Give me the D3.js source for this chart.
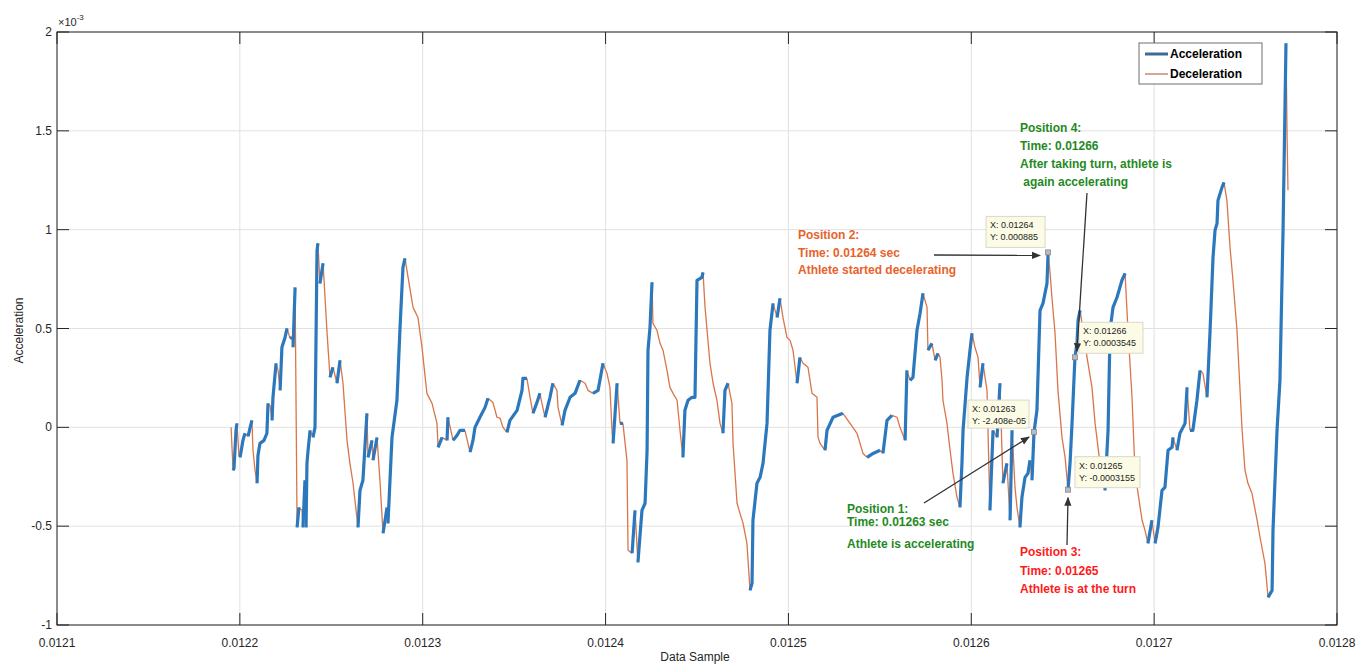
<!DOCTYPE html>
<html><head><meta charset="utf-8">
<script src="https://cdn.jsdelivr.net/npm/d3@7"></script>
<style>
body{margin:0;background:#fff;}
svg{display:block;font-family:"Liberation Sans",Arial,sans-serif;}
</style>
</head><body>
<svg id="chart" width="1357" height="666"></svg>
<script>
// ---------- data ----------
const xTicks = [0.0121, 0.0122, 0.0123, 0.0124, 0.0125, 0.0126, 0.0127, 0.0128];
const yTicks = [-1, -0.5, 0, 0.5, 1, 1.5, 2];           // ×10^-3
const yTickLabels = ["-1", "-0.5", "0", "0.5", "1", "1.5", "2"];
const seriesNames = ["Acceleration", "Deceleration"];

// time (s)
const time = [
0.0121952,0.0121963,0.0121968,0.0121979,0.0121984,0.0121995,0.0122001,0.0122017,0.0122028,0.0122045,
0.0122055,0.0122066,0.0122072,0.0122083,0.0122094,0.0122099,0.0122110,0.0122132,0.0122148,0.0122154,
0.0122165,0.0122176,0.0122181,0.0122198,0.0122209,0.0122220,0.0122230,0.0122247,0.0122258,0.0122274,
0.0122285,0.0122291,0.0122302,0.0122313,0.0122323,0.0122340,0.0122345,0.0122356,0.0122362,0.0122367,
0.0122373,0.0122384,0.0122400,0.0122411,0.0122422,0.0122427,0.0122438,0.0122455,0.0122477,0.0122493,
0.0122509,0.0122531,0.0122548,0.0122564,0.0122586,0.0122602,0.0122619,0.0122646,0.0122657,0.0122673,
0.0122695,0.0122701,0.0122723,0.0122728,0.0122750,0.0122766,0.0122783,0.0122805,0.0122810,0.0122832,
0.0122859,0.0122876,0.0122892,0.0122903,0.0122920,0.0122947,0.0122974,0.0122996,0.0123023,0.0123051,
0.0123078,0.0123084,0.0123106,0.0123133,0.0123138,0.0123166,0.0123188,0.0123204,0.0123231,0.0123259,
0.0123275,0.0123286,0.0123313,0.0123341,0.0123357,0.0123384,0.0123406,0.0123423,0.0123439,0.0123461,
0.0123477,0.0123516,0.0123543,0.0123548,0.0123570,0.0123587,0.0123603,0.0123625,0.0123641,0.0123652,
0.0123669,0.0123696,0.0123712,0.0123734,0.0123740,0.0123762,0.0123778,0.0123806,0.0123833,0.0123860,
0.0123888,0.0123904,0.0123931,0.0123959,0.0123986,0.0124008,0.0124024,0.0124035,0.0124041,0.0124063,
0.0124079,0.0124095,0.0124117,0.0124123,0.0124145,0.0124161,0.0124177,0.0124199,0.0124216,0.0124227,
0.0124232,0.0124243,0.0124254,0.0124259,0.0124281,0.0124298,0.0124314,0.0124336,0.0124352,0.0124369,
0.0124391,0.0124407,0.0124423,0.0124434,0.0124451,0.0124473,0.0124489,0.0124500,0.0124527,0.0124533,
0.0124544,0.0124555,0.0124571,0.0124588,0.0124609,0.0124626,0.0124642,0.0124653,0.0124670,0.0124691,
0.0124697,0.0124719,0.0124735,0.0124752,0.0124773,0.0124790,0.0124801,0.0124806,0.0124828,0.0124845,
0.0124861,0.0124883,0.0124899,0.0124916,0.0124938,0.0124954,0.0124970,0.0124992,0.0125009,0.0125025,
0.0125047,0.0125063,0.0125080,0.0125107,0.0125129,0.0125156,0.0125162,0.0125173,0.0125200,0.0125211,
0.0125244,0.0125298,0.0125337,0.0125375,0.0125408,0.0125430,0.0125463,0.0125501,0.0125517,0.0125539,
0.0125566,0.0125594,0.0125610,0.0125638,0.0125648,0.0125665,0.0125681,0.0125703,0.0125720,0.0125736,
0.0125758,0.0125763,0.0125785,0.0125802,0.0125818,0.0125829,0.0125840,0.0125845,0.0125867,0.0125884,
0.0125900,0.0125922,0.0125938,0.0125949,0.0125955,0.0125977,0.0125993,0.0126004,0.0126020,0.0126037,
0.0126048,0.0126064,0.0126086,0.0126102,0.0126119,0.0126141,0.0126157,0.0126173,0.0126195,0.0126212,
0.0126223,0.0126239,0.0126250,0.0126266,0.0126277,0.0126294,0.0126310,0.0126321,0.0126332,0.0126343,
0.0126359,0.0126376,0.0126392,0.0126414,0.0126420,0.0126431,0.0126441,0.0126458,0.0126474,0.0126496,
0.0126513,0.0126529,0.0126540,0.0126551,0.0126567,0.0126578,0.0126584,0.0126595,0.0126611,0.0126633,
0.0126660,0.0126677,0.0126704,0.0126731,0.0126748,0.0126759,0.0126775,0.0126797,0.0126824,0.0126841,
0.0126857,0.0126879,0.0126895,0.0126912,0.0126934,0.0126950,0.0126966,0.0126988,0.0127005,0.0127021,
0.0127043,0.0127059,0.0127076,0.0127098,0.0127103,0.0127125,0.0127141,0.0127169,0.0127180,0.0127196,
0.0127212,0.0127234,0.0127251,0.0127267,0.0127289,0.0127306,0.0127322,0.0127333,0.0127344,0.0127349,
0.0127371,0.0127382,0.0127398,0.0127415,0.0127431,0.0127453,0.0127481,0.0127497,0.0127513,0.0127535,
0.0127563,0.0127579,0.0127606,0.0127623,0.0127645,0.0127650,0.0127672,0.0127688,0.0127705,0.0127721,
0.0127727,0.0127732
];

// acceleration (×10^-3)
const accel = [
0,-0.218,-0.207,-0.015,0.020,-0.142,-0.152,-0.066,-0.030,-0.046,
-0.005,0.035,-0.116,-0.218,-0.283,-0.142,-0.081,-0.066,-0.030,0.121,
0.111,0.035,0.152,0.324,0.288,0.187,0.405,0.455,0.501,0.450,
0.455,0.405,0.708,-0.506,-0.405,-0.420,-0.506,-0.268,-0.506,-0.182,
-0.116,-0.015,-0.051,0,0.895,0.931,0.728,0.830,0.476,0.253,
0.304,0.223,0.339,0.223,-0.066,-0.182,-0.283,-0.506,-0.319,-0.268,
0.071,-0.152,-0.066,-0.167,-0.051,-0.268,-0.536,-0.405,-0.486,-0.051,
0.137,0.506,0.809,0.855,0.759,0.607,0.556,0.405,0.172,0.121,
0.020,-0.101,-0.051,-0.066,0.051,-0.066,-0.040,-0.015,-0.015,-0.126,
-0.066,0,0.051,0.101,0.147,0.126,0.051,0.046,0,-0.025,
0.035,0.086,0.187,0.248,0.248,0.152,0.071,0.126,0.172,0.121,
0.051,0.152,0.223,0.187,0.101,0.010,0.086,0.152,0.172,0.238,
0.223,0.187,0.172,0.187,0.324,0.273,0.202,-0.015,-0.081,0.223,
0.020,0.020,-0.167,-0.622,-0.637,-0.420,-0.683,-0.420,-0.384,-0.116,
0.390,0.506,0.734,0.526,0.491,0.425,0.390,0.288,0.202,0.172,
0.137,-0.015,-0.152,0.086,0.137,0.152,0.152,0.744,0.759,0.784,
0.607,0.491,0.324,0.223,0.137,0.020,-0.030,0.187,0.223,0.121,
-0.081,-0.384,-0.435,-0.486,-0.587,-0.825,-0.789,-0.470,-0.283,-0.253,
-0.182,0.020,0.491,0.627,0.556,0.653,0.556,0.455,0.440,0.390,
0.223,0.354,0.324,0.304,0.172,0.152,-0.051,-0.081,-0.116,-0.015,
0.051,0.071,0.020,-0.030,-0.132,-0.152,-0.132,-0.116,-0.132,0.035,
0.061,0.051,0,-0.066,0.288,0.238,0.253,0.491,0.577,0.678,
0.607,0.390,0.425,0.339,0.374,0.354,0.238,0.137,0.020,-0.116,
-0.233,-0.354,-0.405,-0.182,-0.015,0.253,0.390,0.476,0.405,0.354,
0.202,0.324,0.187,-0.420,-0.015,-0.051,0.223,-0.283,-0.182,-0.470,
-0.015,-0.304,-0.405,-0.506,-0.354,-0.253,-0.233,-0.167,-0.268,-0.02408,
0.086,0.592,0.627,0.728,0.885,0.779,0.658,0.476,0.187,-0.051,
-0.152,-0.3155,-0.182,0.020,0.3545,0.425,0.541,0.592,0.491,0.354,
0.202,0.020,-0.182,-0.319,-0.015,0.491,0.607,0.658,0.744,0.779,
0.491,0.152,-0.218,-0.334,-0.470,-0.521,-0.587,-0.470,-0.587,-0.506,
-0.319,-0.304,-0.116,-0.101,-0.051,-0.116,-0.030,0.020,0.202,-0.015,
-0.015,0.137,0.288,0.273,0.152,0.491,0.860,0.997,1.032,1.148,
1.214,1.239,1.148,0.911,0.744,0.491,-0.015,-0.218,-0.283,-0.334,
-0.470,-0.556,-0.688,-0.860,-0.825,-0.521,-0.015,0.238,0.997,1.943,
1.467,1.199
];

// data tips (time, value, label lines)
const tipTime  = [0.0126343, 0.0126420, 0.0126529, 0.0126567];
const tipValue = [-0.02408, 0.885, -0.3155, 0.3545];
const tipLines = [
  ["X:   0.01263", "Y: -2.408e-05"],
  ["X: 0.01264", "Y: 0.000885"],
  ["X: 0.01265", "Y: -0.0003155"],
  ["X: 0.01266", "Y: 0.0003545"]
];

// ---------- layout ----------
const svg = d3.select("#chart");
const L = 57, R = 1337, T = 32, B = 625;
const x = d3.scaleLinear().domain([0.0121, 0.0128]).range([L, R]);
const y = d3.scaleLinear().domain([-1, 2]).range([B, T]);
const axisColor = "#262626";
const gridColor = "#e1e1e1";

// grid
const grid = svg.append("g");
grid.selectAll("line.gx").data(xTicks).join("line")
  .attr("x1", d => x(d)).attr("x2", d => x(d)).attr("y1", T).attr("y2", B)
  .attr("stroke", gridColor).attr("stroke-width", 1);
grid.selectAll("line.gy").data(yTicks).join("line")
  .attr("x1", L).attr("x2", R).attr("y1", d => y(d)).attr("y2", d => y(d))
  .attr("stroke", gridColor).attr("stroke-width", 1);

// clip
svg.append("defs").append("clipPath").attr("id", "clip")
  .append("rect").attr("x", L).attr("y", T).attr("width", R - L).attr("height", B - T);
svg.select("defs").append("marker").attr("id", "arrow")
  .attr("viewBox", "0 0 10 10").attr("refX", 9).attr("refY", 5)
  .attr("markerWidth", 9).attr("markerHeight", 9).attr("orient", "auto")
  .attr("markerUnits", "userSpaceOnUse")
  .append("path").attr("d", "M0,1 L10,5 L0,9 Z").attr("fill", "#333");

// split data into rising (acceleration) and falling (deceleration) runs
const pts = time.map((t, i) => ({t, a: accel[i]}));
const runs = [];
for (let i = 1; i < pts.length; i++) {
  const up = pts[i].a >= pts[i - 1].a;
  const last = runs[runs.length - 1];
  if (last && last.up === up) last.pts.push(pts[i]);
  else runs.push({up, pts: [pts[i - 1], pts[i]]});
}
const line = d3.line().x(d => x(d.t)).y(d => y(d.a));
const plot = svg.append("g").attr("clip-path", "url(#clip)");
plot.selectAll("path.dec").data(runs.filter(r => !r.up)).join("path")
  .attr("d", r => line(r.pts)).attr("fill", "none")
  .attr("stroke", "#d9754a").attr("stroke-width", 1.3).attr("stroke-linejoin", "round");
plot.selectAll("path.acc").data(runs.filter(r => r.up)).join("path")
  .attr("d", r => line(r.pts)).attr("fill", "none")
  .attr("stroke", "#2b78bd").attr("stroke-width", 3.2).attr("stroke-linejoin", "round");

// axes frame
const frame = svg.append("g");
frame.append("rect").attr("x", L).attr("y", T).attr("width", R - L).attr("height", B - T)
  .attr("fill", "none").attr("stroke", axisColor).attr("stroke-width", 1);
const tickLen = 12;
xTicks.forEach(d => {
  frame.append("line").attr("x1", x(d)).attr("x2", x(d)).attr("y1", B).attr("y2", B - tickLen).attr("stroke", axisColor);
  frame.append("line").attr("x1", x(d)).attr("x2", x(d)).attr("y1", T).attr("y2", T + tickLen).attr("stroke", axisColor);
});
yTicks.forEach(d => {
  frame.append("line").attr("x1", L).attr("x2", L + tickLen).attr("y1", y(d)).attr("y2", y(d)).attr("stroke", axisColor);
  frame.append("line").attr("x1", R).attr("x2", R - tickLen).attr("y1", y(d)).attr("y2", y(d)).attr("stroke", axisColor);
});

// tick labels
const fmtX = d3.format(".4f");
svg.append("g").selectAll("text").data(xTicks).join("text")
  .attr("x", d => x(d)).attr("y", B + 22).attr("text-anchor", "middle")
  .attr("font-size", 12).attr("fill", axisColor).text(d => fmtX(d));
svg.append("g").selectAll("text").data(yTicks).join("text")
  .attr("x", L - 5).attr("y", d => y(d) + 4).attr("text-anchor", "end")
  .attr("font-size", 12).attr("fill", axisColor).text((d, i) => yTickLabels[i]);

// exponent
const ex = svg.append("text").attr("x", L + 1).attr("y", T - 6).attr("font-size", 11).attr("fill", axisColor);
ex.append("tspan").text("×10");
ex.append("tspan").attr("dy", -6).attr("font-size", 8).text("-3");

// axis labels
svg.append("text").attr("x", (L + R) / 2 - 2).attr("y", B + 36).attr("text-anchor", "middle")
  .attr("font-size", 12).attr("fill", axisColor).text("Data Sample");
svg.append("text").attr("transform", `translate(23,${(T + B) / 2 + 2}) rotate(-90)`)
  .attr("text-anchor", "middle").attr("font-size", 12).attr("fill", axisColor).text("Acceleration");

// legend
const lg = svg.append("g");
lg.append("rect").attr("x", 1139).attr("y", 43).attr("width", 123).attr("height", 41)
  .attr("fill", "#fff").attr("stroke", "#6e6e6e").attr("stroke-width", 1);
lg.append("line").attr("x1", 1145).attr("x2", 1168).attr("y1", 54).attr("y2", 54)
  .attr("stroke", "#3d6a96").attr("stroke-width", 3);
lg.append("line").attr("x1", 1145).attr("x2", 1168).attr("y1", 74).attr("y2", 74)
  .attr("stroke", "#c98a6e").attr("stroke-width", 1.5);
lg.append("text").attr("x", 1170).attr("y", 58).attr("font-size", 12).attr("font-weight", "bold").text(seriesNames[0]);
lg.append("text").attr("x", 1170).attr("y", 78).attr("font-size", 12).attr("font-weight", "bold").text(seriesNames[1]);

// data tips
const tipBoxes = [
  {dx: -66, dy: -32, w: 61, h: 28},   // pos1
  {dx: -62, dy: -36, w: 59, h: 31},   // pos2
  {dx: 7, dy: -33, w: 65, h: 31},     // pos3
  {dx: 4, dy: -35, w: 64, h: 31}      // pos4
];
const tips = svg.append("g");
tipTime.forEach((t, i) => {
  const px = x(t), py = y(tipValue[i]), b = tipBoxes[i];
  tips.append("rect").attr("x", px - 2.5).attr("y", py - 2.5).attr("width", 5).attr("height", 5)
    .attr("fill", "#bbb").attr("stroke", "#888").attr("stroke-width", 0.8);
  tips.append("rect").attr("x", px + b.dx).attr("y", py + b.dy).attr("width", b.w).attr("height", b.h)
    .attr("fill", "#fcfce6").attr("stroke", "#d8d8c8").attr("stroke-width", 1);
  tipLines[i].forEach((s, k) => {
    tips.append("text").attr("x", px + b.dx + 4).attr("y", py + b.dy + 12 + k * 12)
      .attr("font-size", 9).attr("fill", "#222").text(s);
  });
});

// annotations
const notes = [
  {x: 798, y: 239, dy: 17.5, color: "#e8622a", lines: ["Position 2:", "Time: 0.01264 sec", "Athlete started decelerating"]},
  {x: 1020, y: 132, dy: 18, color: "#1f8a1f", lines: ["Position 4:", "Time: 0.01266", "After taking turn, athlete is", " again accelerating"]},
  {x: 847, y: 513, dy: 12.5, color: "#1f8a1f", lines: ["Position 1:", "Time: 0.01263 sec"]},
  {x: 847, y: 548, dy: 0, color: "#1f8a1f", lines: ["Athlete is accelerating"]},
  {x: 1020, y: 556, dy: 18.5, color: "#ff1a1a", lines: ["Position 3:", "Time: 0.01265", "Athlete is at the turn"]}
];
const ann = svg.append("g");
notes.forEach(n => {
  n.lines.forEach((s, k) => {
    ann.append("text").attr("x", n.x).attr("y", n.y + k * n.dy)
      .attr("font-size", 12).attr("font-weight", "bold").attr("fill", n.color)
      .attr("xml:space", "preserve").style("white-space", "pre").text(s);
  });
});
// arrows to the data tips
const arrows = [
  {x1: 924, y1: 503, i: 0, ox: -5, oy: 5},
  {x1: 934, y1: 255, i: 1, ox: -8, oy: 3},
  {x1: 1067, y1: 545, i: 2, ox: 0, oy: 8},
  {x1: 1087, y1: 193, i: 3, ox: 2, oy: -6}
];
arrows.forEach(a => {
  ann.append("line").attr("x1", a.x1).attr("y1", a.y1)
    .attr("x2", x(tipTime[a.i]) + a.ox).attr("y2", y(tipValue[a.i]) + a.oy)
    .attr("stroke", "#333").attr("stroke-width", 1.3).attr("marker-end", "url(#arrow)");
});
</script>
</body></html>
